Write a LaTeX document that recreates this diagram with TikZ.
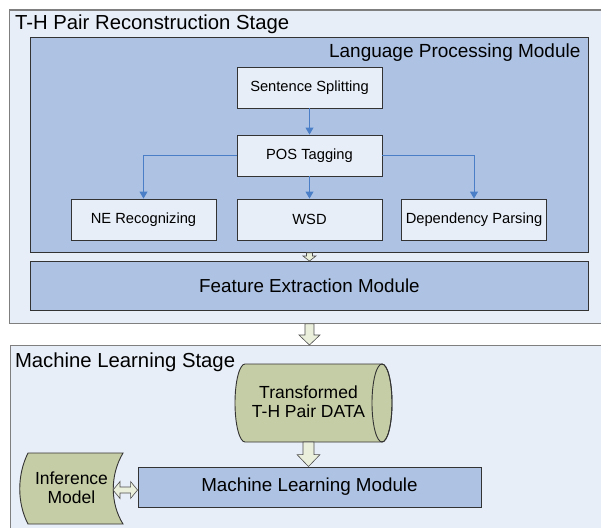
\documentclass[tikz,border=0pt]{standalone}
\usepackage{fontspec}
\setmainfont{Liberation Sans}
\usetikzlibrary{arrows.meta,calc}
\definecolor{stagefill}{HTML}{E8EEF7}
\definecolor{stageline}{HTML}{7F7F7F}
\definecolor{modfill}{HTML}{AEC3E4}
\definecolor{boxfill}{HTML}{E8EEF7}
\definecolor{darkline}{HTML}{333333}
\definecolor{olive}{HTML}{C5CDA6}
\definecolor{arrfill}{HTML}{EAEFDC}
\definecolor{arrline}{HTML}{4D4D4D}
\definecolor{connblue}{HTML}{4A7EC6}
\newcommand{\varrow}[5]{%
  \filldraw[blockarr] let \p1=(#1), \p2=(#2) in
    (\x1-#3,\y1) -- (\x1-#3,\y2+#5) -- (\x1-#4,\y2+#5) -- (\x1,\y2)
    -- (\x1+#4,\y2+#5) -- (\x1+#3,\y2+#5) -- (\x1+#3,\y1) -- cycle;}
\begin{document}
\begin{tikzpicture}[x=1pt,y=-1pt,
  stage/.style={draw=stageline, fill=stagefill, line width=1.3pt, inner sep=0pt},
  module/.style={draw=darkline, fill=modfill, line width=0.9pt, inner sep=0pt},
  procbox/.style={draw=darkline, fill=boxfill, line width=0.9pt, inner sep=0pt,
    minimum width=145pt, minimum height=41pt, font=\fontsize{14.7}{16}\selectfont},
  conn/.style={draw=connblue, line width=0.9pt, -{Triangle[length=7pt,width=8pt]}},
  blockarr/.style={fill=arrfill, draw=arrline, line width=0.6pt},
  olivebox/.style={draw=darkline, fill=olive, line width=0.9pt},
  titlefont/.style={font=\fontsize{20.3}{22}\selectfont},
  bigfont/.style={font=\fontsize{18.8}{20}\selectfont},
  midfont/.style={font=\fontsize{17.5}{19}\selectfont, align=center}]
\useasboundingbox (0,0) rectangle (601,527);
\clip (0,0) rectangle (601,527);
\fill[white] (0,0) rectangle (601,527);
% stages
\node[stage, anchor=north west, minimum width=620pt, minimum height=313pt] (s1) at (9,9.5) {};
\node[titlefont, anchor=base west] (t1) at (11.5,29.5) {T-H Pair Reconstruction Stage};
\node[stage, anchor=north west, minimum width=620pt, minimum height=200pt] (s2) at (9.5,345) {};
\node[titlefont, anchor=base west] (t2) at (11.5,367) {Machine Learning Stage};
% language processing module
\node[module, anchor=north west, minimum width=558pt, minimum height=215pt] (lpm) at (30,37) {};
\node[font=\fontsize{19}{20}\selectfont, anchor=base east] (lpmt) at (584,57.5) {Language Processing Module};
\node[procbox] (ss) at (309.5,87.5) {Sentence Splitting};
\node[procbox] (pos) at (309.5,155.5) {POS Tagging};
\node[procbox] (ne) at (143.5,219.5) {NE Recognizing};
\node[procbox] (wsd) at (309.5,219.5) {WSD};
\node[procbox] (dp) at (474,219.5) {Dependency Parsing};
\draw[conn] (ss) -- (pos);
\draw[conn] (pos) -- (wsd);
\draw[conn] (pos.west) -| (ne.north);
\draw[conn] (pos.east) -| (dp.north);
% feature extraction
\node[module, bigfont, anchor=north west, minimum width=558pt, minimum height=49pt] (fem) at (30,261) {};
\node[bigfont] (femt) at (fem.center) {Feature Extraction Module};
% machine learning: data cylinder
\filldraw[olivebox] (382,364) -- (245,364)
  arc[start angle=270, end angle=90, x radius=10, y radius=39]
  -- (382,442) arc[start angle=90, end angle=-90, x radius=10, y radius=39] -- cycle;
\draw[olivebox, fill=none] (382,403) ellipse [x radius=10, y radius=39];
\node[midfont] (cyl) at (308.5,402) {Transformed\\T-H Pair DATA};
\coordinate (cylS) at (308.5,442);
\node[module, minimum width=343pt, minimum height=40pt, bigfont] (mlm) at (309.5,487) {Machine Learning Module};
% inference model
\draw[olivebox] (28,453) -- (123,453) .. controls (110,475) and (110,503) .. (123,524)
  -- (28,524) .. controls (17,503) and (17,475) .. (28,453) -- cycle;
\node[midfont] (inf) at (71.5,488) {Inference\\Model};
\coordinate (infE) at (113,490);
% block arrows
\varrow{lpm.south}{fem.north}{3pt}{6.5pt}{5pt}
\varrow{fem.south |- s1.south}{fem.south |- s2.north}{4.5pt}{10.5pt}{10pt}
\varrow{cylS}{cylS |- mlm.north}{5.5pt}{11.5pt}{12pt}
\filldraw[blockarr] let \p1=(infE), \p2=(mlm.west) in
  (\x1,\y1) -- (\x1+7pt,\y1+8.5pt) -- (\x1+7pt,\y1+3pt) -- (\x2-7pt,\y1+3pt)
  -- (\x2-7pt,\y1+8.5pt) -- (\x2,\y1) -- (\x2-7pt,\y1-8.5pt) -- (\x2-7pt,\y1-3pt)
  -- (\x1+7pt,\y1-3pt) -- (\x1+7pt,\y1-8.5pt) -- cycle;
\end{tikzpicture}
\end{document}
